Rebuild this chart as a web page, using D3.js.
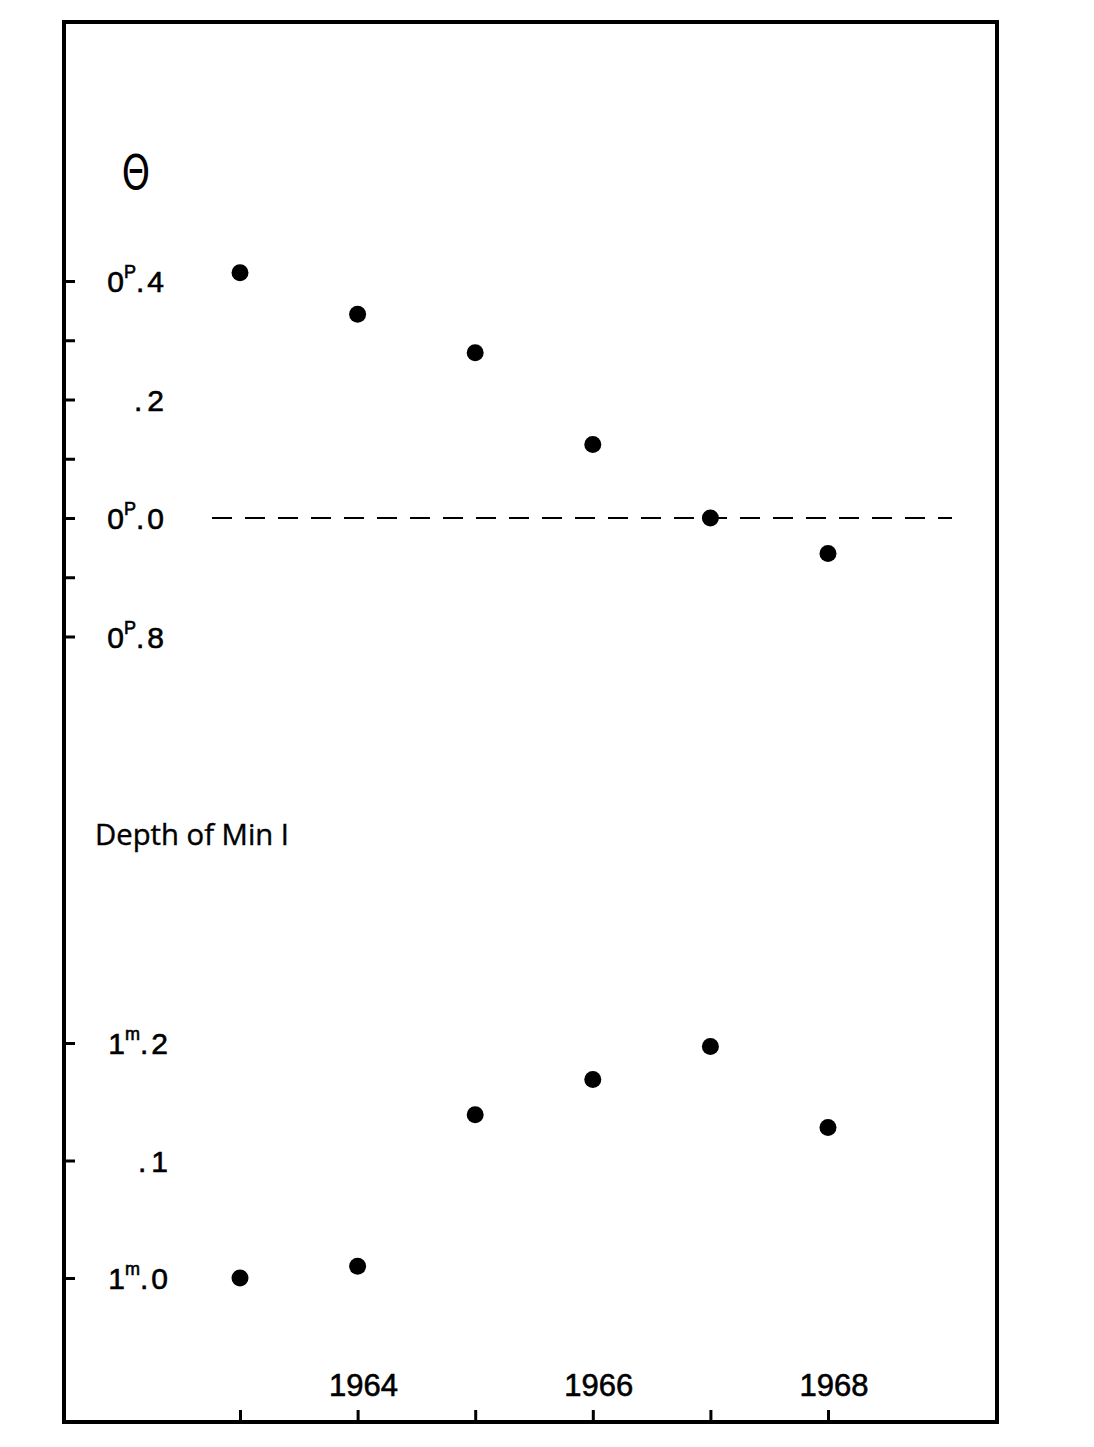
<!DOCTYPE html>
<html><head><meta charset="utf-8">
<script src="https://cdn.jsdelivr.net/npm/d3@7"></script>
<style>body{margin:0;background:#fff}svg{display:block}</style>
</head><body>
<script>
const years = [1963, 1964, 1965, 1966, 1967, 1968];
// phase Θ in periods (values below 0.0 wrap to 0.9, 0.8 ...)
const theta = [0.414, 0.344, 0.279, 0.124, 0.0, -0.06];
// depth of Min I in magnitudes
const depth = [1.000, 1.010, 1.139, 1.169, 1.197, 1.128];
const thetaTicks = [0.4, 0.3, 0.2, 0.1, 0.0, -0.1, -0.2];
const thetaLabels = [["0","P","4"], null, [null,null,"2"], null, ["0","P","0"], null, ["0","P","8"]];
const depthTicks = [1.2, 1.1, 1.0];
const depthLabels = [["1","m","2"], [null,null,"1"], ["1","m","0"]];
const yearTicks = [1963, 1964, 1965, 1966, 1967, 1968];
const yearLabels = [1964, 1966, 1968];

const W = 1094, H = 1447;
const svg = d3.select("body").append("svg").attr("width", W).attr("height", H);
const font = "'Liberation Sans', Arial, sans-serif";

const frame = {l: 64, t: 22, r: 997, b: 1422};
const x = d3.scaleLinear().domain([1963, 1968]).range([240, 828]);
const yT = d3.scaleLinear().domain([0, 0.4]).range([518, 281]);
const yD = d3.scaleLinear().domain([1.0, 1.2]).range([1278, 1043]);

// frame
svg.append("rect").attr("x", frame.l).attr("y", frame.t)
  .attr("width", frame.r - frame.l).attr("height", frame.b - frame.t)
  .attr("fill", "none").attr("stroke", "#000").attr("stroke-width", 4);

// left axes (ticks pointing inward)
function leftAxis(scale, ticks) {
  const g = svg.append("g").attr("transform", `translate(${frame.l},0)`)
    .call(d3.axisRight(scale).tickValues(ticks).tickSize(11).tickFormat(""));
  g.select(".domain").remove();
  g.selectAll(".tick line").attr("stroke", "#000").attr("stroke-width", 3);
}
leftAxis(yT, thetaTicks);
leftAxis(yD, depthTicks);

// custom labels with superscripts
function drawLabels(scale, ticks, labels, xEnd) {
  ticks.forEach((v, i) => {
    const lab = labels[i];
    if (!lab) return;
    const t = svg.append("text").attr("x", xEnd).attr("y", scale(v) + 11)
      .attr("text-anchor", "end").attr("font-family", font)
      .attr("font-size", 30).attr("fill", "#000")
      .attr("stroke", "#000").attr("stroke-width", 0.6);
    if (lab[0]) {
      t.append("tspan").text(lab[0]);
      t.append("tspan").attr("font-size", 18).attr("dy", -14).text(lab[1]);
      t.append("tspan").attr("dy", 14).text(".");
      t.append("tspan").attr("dx", 3).text(lab[2]);
    } else {
      t.append("tspan").text(".");
      t.append("tspan").attr("dx", 5).text(lab[2]);
    }
  });
}
drawLabels(yT, thetaTicks, thetaLabels, 164);
drawLabels(yD, depthTicks, depthLabels, 168);

// Θ title
svg.append("text").attr("transform", "translate(136,189) scale(0.75,1)")
  .attr("text-anchor", "middle")
  .attr("font-family", "'DejaVu Sans', sans-serif").attr("font-size", 48).text("Θ");

// Depth title
svg.append("text").attr("x", 95).attr("y", 845).attr("font-family", "'Open Sans', sans-serif")
  .attr("font-size", 29).attr("textLength", 194).attr("lengthAdjust", "spacingAndGlyphs")
  .attr("stroke", "#000").attr("stroke-width", 0.4).text("Depth of Min I");

// dashed zero line
svg.append("line").attr("x1", 212).attr("x2", 952).attr("y1", yT(0)).attr("y2", yT(0))
  .attr("stroke", "#000").attr("stroke-width", 2).attr("stroke-dasharray", "20,13");

// bottom axis (ticks pointing up)
const gx = svg.append("g").attr("transform", `translate(0,${frame.b})`)
  .call(d3.axisTop(x).tickValues(yearTicks).tickSize(12).tickFormat(""));
gx.select(".domain").remove();
gx.selectAll(".tick line").attr("stroke", "#000").attr("stroke-width", 3);
svg.selectAll(".yearlab").data(yearLabels).enter().append("text")
  .attr("x", d => x(d) + 6).attr("y", 1396).attr("text-anchor", "middle")
  .attr("font-family", font).attr("font-size", 31)
  .attr("stroke", "#000").attr("stroke-width", 0.6).text(d => d);

// points
svg.selectAll(".pt").data(years).enter().append("circle")
  .attr("cx", d => x(d)).attr("cy", (d, i) => yT(theta[i])).attr("r", 8.5).attr("fill", "#000");
svg.selectAll(".pd").data(years).enter().append("circle")
  .attr("cx", d => x(d)).attr("cy", (d, i) => yD(depth[i])).attr("r", 8.5).attr("fill", "#000");
</script>
</body></html>
